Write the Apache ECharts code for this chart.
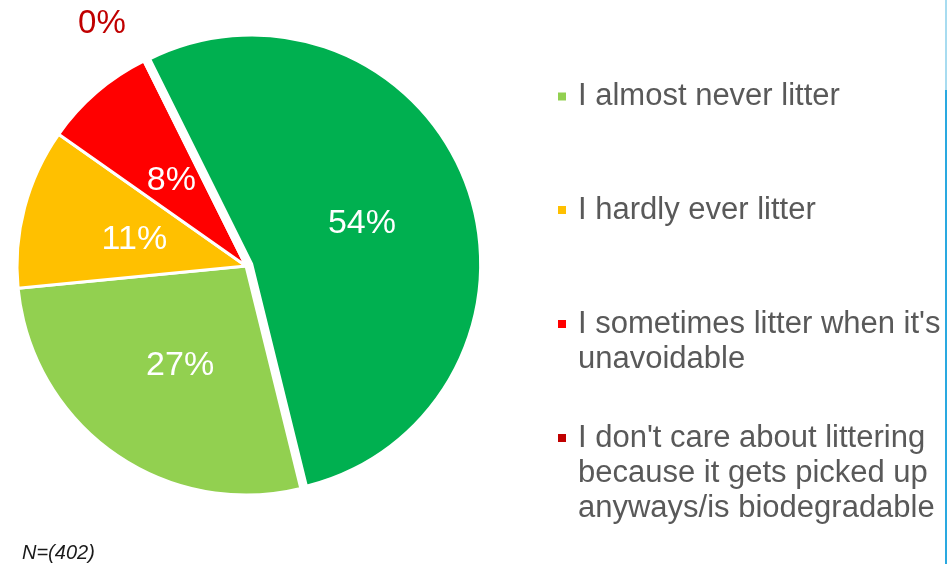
<!DOCTYPE html>
<html>
<head>
<meta charset="utf-8">
<script src="https://cdn.jsdelivr.net/npm/echarts@6/dist/echarts.min.js"></script>
<style>
html,body{margin:0;padding:0;background:#fff;}
#chart{width:947px;height:564px;}
</style>
</head>
<body>
<div id="chart"></div>
<script>
// ---- data ----
const categories = [
  "I never litter",
  "I almost never litter",
  "I hardly ever litter",
  "I sometimes litter when it's unavoidable",
  "I don't care about littering because it gets picked up anyways/is biodegradable"
];
const values = [53.5, 27.3, 11.3, 7.9, 0];
const legendNames = categories.slice(1);
const legendLines = [
  ["I almost never litter"],
  ["I hardly ever litter"],
  ["I sometimes litter when it's", "unavoidable"],
  ["I don't care about littering", "because it gets picked up", "anyways/is biodegradable"]
];
const sampleNote = "N=(402)";

// ---- styles ----
const colors = ["#00B050", "#92D050", "#FFC000", "#FF0000", "#C00000"];
const iconCenters = [96.5, 210, 324, 438];
const LINE_H = 35;
const FONT = "'Liberation Sans', Arial, sans-serif";

const chart = echarts.init(document.getElementById('chart'), null, {renderer: 'canvas'});

const seriesData = categories.map((name, i) => {
  const item = {name: name, value: values[i], itemStyle: {color: colors[i]}};
  if (i === 0) item.selected = true;
  if (i === 4) {
    item.label = {
      position: 'outside', color: '#C00000', fontSize: 33,
      distanceToLabelLine: 0, offset: [0, 0]
    };
    item.labelLine = {show: false, length: 41, length2: 0};
  }
  return item;
});

// icon sits on the first line: pad the text block with empty lines above so its middle is line 1
const legends = legendNames.map((name, i) => {
  const lines = legendLines[i];
  const pad = lines.length - 1;
  const text = '\n'.repeat(pad) + lines.join('\n');
  const totalLines = lines.length + pad;
  return {
    data: [name],
    orient: 'vertical',
    left: 556,
    top: iconCenters[i] - totalLines * LINE_H / 2,
    padding: 0,
    icon: 'rect',
    itemWidth: 10,
    itemHeight: 10,
    selectedMode: false,
    formatter: () => text,
    textStyle: {
      fontFamily: FONT, fontSize: 31, color: '#595959', lineHeight: LINE_H,
      padding: [0, 0, 0, 6]
    }
  };
});

chart.setOption({
  animation: false,
  backgroundColor: '#ffffff',
  title: {
    text: sampleNote,
    left: 22, top: 543, padding: 0,
    textStyle: {fontFamily: FONT, fontSize: 20, fontStyle: 'italic', fontWeight: 'normal', color: '#1a1a1a'}
  },
  legend: legends,
  graphic: [
    {type: 'rect', shape: {x: 945, y: 0, width: 2, height: 90}, style: {fill: '#a8dcf0'}, silent: true},
    {type: 'rect', shape: {x: 945, y: 90, width: 2, height: 474}, style: {fill: '#2aa9e0'}, silent: true}
  ],
  series: [{
    type: 'pie',
    center: [246, 266],
    radius: 229,
    startAngle: 116.45,
    clockwise: true,
    avoidLabelOverlap: false,
    selectedMode: 'single',
    selectedOffset: 6,
    emphasis: {disabled: true},
    itemStyle: {borderColor: '#ffffff', borderWidth: 3},
    label: {
      show: true, position: 'inside', color: '#ffffff', fontSize: 34,
      fontFamily: FONT, offset: [2, 4],
      formatter: p => Math.round(p.value) + '%'
    },
    labelLine: {show: false},
    data: seriesData
  }]
});
</script>
</body>
</html>
